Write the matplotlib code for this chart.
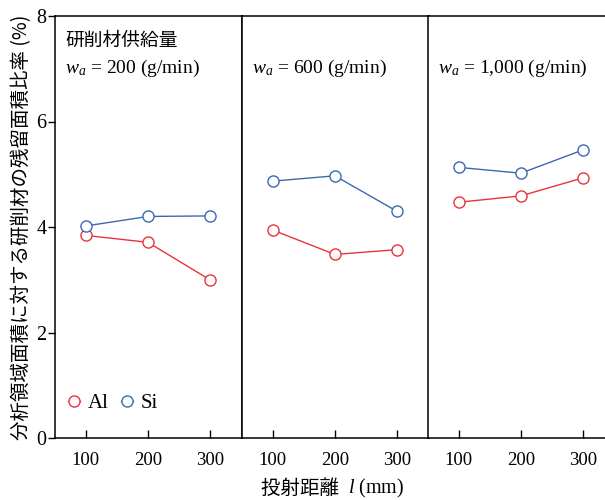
import matplotlib.pyplot as plt

plt.rcParams['font.family'] = ['Liberation Serif', 'Noto Sans CJK JP']
plt.rcParams['mathtext.fontset'] = 'custom'
plt.rcParams['mathtext.rm'] = 'Liberation Serif'
plt.rcParams['mathtext.it'] = 'Liberation Serif:italic'

distance = [100, 200, 300]
feed_labels = ['200', '600', '1,000']
al_values = [
    [3.84, 3.71, 3.00],
    [3.94, 3.48, 3.57],
    [4.47, 4.59, 4.93],
]
si_values = [
    [4.02, 4.20, 4.21],
    [4.87, 4.97, 4.30],
    [5.13, 5.02, 5.46],
]

RED = '#e8343c'
BLUE = '#3d68b0'
W, H = 605, 500

fig = plt.figure(figsize=(W / 100, H / 100), dpi=100)

# panel edges in pixels (last panel runs off the right edge like the original)
lefts = [55, 242, 428]
pw = 187
bottom, top = 438, 16

axes = []
for i, left in enumerate(lefts):
    ax = fig.add_axes([left / W, (H - bottom) / H, pw / W, (bottom - top) / H])
    ax.plot(distance, al_values[i], color=RED, lw=1.0, marker='o', ms=8,
            mfc='white', mec=RED, mew=1.0, label='Al')
    ax.plot(distance, si_values[i], color=BLUE, lw=1.0, marker='o', ms=8,
            mfc='white', mec=BLUE, mew=1.0, label='Si')
    ax.set_xlim(50, 352)
    ax.set_ylim(0, 8)
    ax.set_xticks(distance)
    ax.set_yticks([0, 2, 4, 6, 8])
    ax.tick_params(axis='x', direction='in', length=6, width=1.0,
                   labelsize=13.5, pad=10)
    ax.tick_params(axis='y', direction='out', length=5, width=1.0,
                   labelsize=14.5, pad=1)
    for sp in ax.spines.values():
        sp.set_linewidth(1.1)
    if i > 0:
        ax.tick_params(axis='y', left=False, labelleft=False)
    if i == 2:
        ax.spines['right'].set_visible(False)
    ax.text(10 / pw, (bottom - 68) / (bottom - top),
            r'$w_a$ = ' + feed_labels[i] + ' (g/min)',
            transform=ax.transAxes, fontsize=14, va='center', ha='left')
    axes.append(ax)

axes[0].text(10 / pw, (bottom - 40) / (bottom - top), '研削材供給量',
             transform=axes[0].transAxes, fontsize=13.5, va='center',
             ha='left', family=['Noto Sans CJK JP'])

axes[0].legend(loc='lower left', bbox_to_anchor=(-0.01, 0.025), ncol=2,
               frameon=False, fontsize=15, handlelength=0.6,
               handletextpad=0.35, columnspacing=0.6, borderaxespad=0.3)

axes[0].set_ylabel('分析領域面積に対する研削材の残留面積比率 (%)',
                   family=['Noto Sans CJK JP'], fontsize=14, labelpad=3)

fig.text(348 / W, 1 - 488 / H, '投射距離  ', fontsize=14,
         family=['Noto Sans CJK JP'], ha='right', va='center')
fig.text(348 / W, 1 - 488 / H, r'$l$ (mm)', fontsize=14.5,
         ha='left', va='center')

fig.savefig('out.png', dpi=100)
